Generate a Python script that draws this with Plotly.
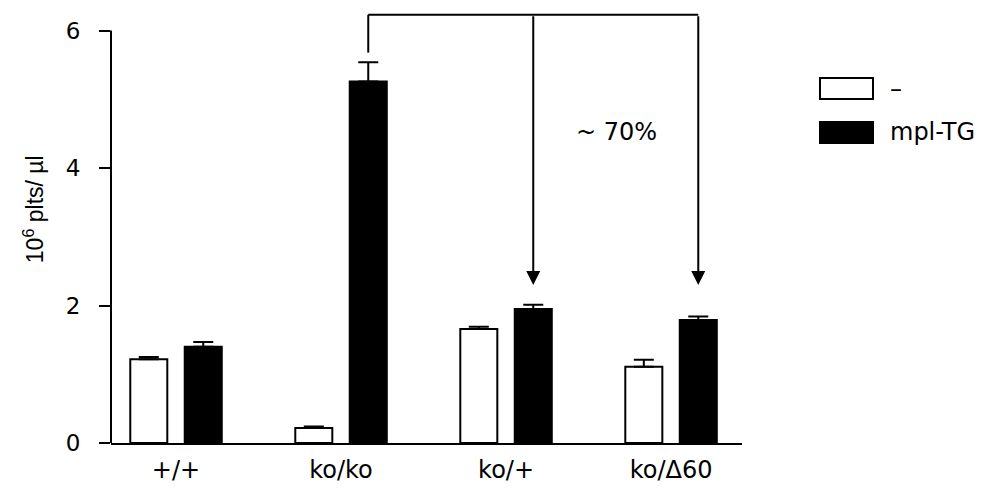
import plotly.graph_objects as go

categories = ["+/+", "ko/ko", "ko/+", "ko/Δ60"]
series_names = ["–", "mpl-TG"]
values_minus = [1.22, 0.22, 1.66, 1.11]
errors_minus = [0.03, 0.02, 0.03, 0.10]
values_tg = [1.40, 5.26, 1.95, 1.79]
errors_tg = [0.07, 0.28, 0.06, 0.05]
y_ticks = [0, 2, 4, 6]
y_title = "10<sup>6</sup> plts/ µl"
annotation_text = "~ 70%"

FONT = "DejaVu Sans, Arial, sans-serif"
FONT_T = "Liberation Sans, Arial, sans-serif"
FS = 24
FS_TICK = 23
BLACK = "#000000"

fig = go.Figure()
fig.add_trace(go.Bar(
    x=categories, y=values_minus, name=series_names[0],
    marker=dict(color="white", line=dict(color=BLACK, width=2)),
    error_y=dict(type="data", symmetric=False, array=errors_minus,
                 arrayminus=[0] * len(errors_minus), color=BLACK, thickness=2, width=10),
    showlegend=False,
))
fig.add_trace(go.Bar(
    x=categories, y=values_tg, name=series_names[1],
    marker=dict(color=BLACK, line=dict(color=BLACK, width=2)),
    error_y=dict(type="data", symmetric=False, array=errors_tg,
                 arrayminus=[0] * len(errors_tg), color=BLACK, thickness=2, width=10),
    showlegend=False,
))

# Bracket connecting ko/ko mpl-TG with ko/+ and ko/Δ60 mpl-TG bars
off = 0.165
top_y = 6.23
x_src = 1 + off
x_t1 = 2 + off
x_t2 = 3 + off
shapes = [
    dict(type="line", xref="x", yref="y", x0=x_src, x1=x_src, y0=5.68, y1=top_y,
         line=dict(color=BLACK, width=2)),
    dict(type="line", xref="x", yref="y", x0=x_src, x1=x_t2, y0=top_y, y1=top_y,
         line=dict(color=BLACK, width=2)),
    # y-axis line from 0 to 6
    dict(type="line", xref="paper", yref="y", x0=0, x1=0, y0=0, y1=6,
         line=dict(color=BLACK, width=2)),
    # manual legend boxes
    dict(type="rect", xref="paper", yref="paper", x0=1.1236, x1=1.2076, y0=0.7945, y1=0.8430,
         fillcolor="white", line=dict(color=BLACK, width=2)),
    dict(type="rect", xref="paper", yref="paper", x0=1.1236, x1=1.2076, y0=0.6928, y1=0.7413,
         fillcolor=BLACK, line=dict(color=BLACK, width=2)),
]

annotations = []
for xt in (x_t1, x_t2):
    annotations.append(dict(
        x=xt, y=2.30, xref="x", yref="y", ax=xt, ay=top_y, axref="x", ayref="y",
        showarrow=True, arrowhead=2, arrowsize=1.4, arrowwidth=2, arrowcolor=BLACK, text="",
        standoff=0, startstandoff=0,
    ))
annotations.append(dict(x=2.667, y=4.53, xref="x", yref="y", text=annotation_text,
                        showarrow=False, font=dict(family=FONT, size=FS, color=BLACK)))
annotations.append(dict(x=1.2314, y=0.8187, xref="paper", yref="paper", text=series_names[0],
                        showarrow=False, xanchor="left", yanchor="middle",
                        font=dict(family=FONT, size=FS, color=BLACK)))
annotations.append(dict(x=1.2314, y=0.7171, xref="paper", yref="paper", text=series_names[1],
                        showarrow=False, xanchor="left", yanchor="middle",
                        font=dict(family=FONT, size=FS, color=BLACK)))
# y-axis title
annotations.append(dict(x=-0.122, y=0.54, xref="paper", yref="paper", text=y_title,
                        textangle=-90, showarrow=False, xanchor="center", yanchor="middle",
                        font=dict(family=FONT_T, size=23, color=BLACK)))

fig.update_layout(
    width=986, height=488,
    margin=dict(l=111, r=244, t=10, b=45),
    paper_bgcolor="white", plot_bgcolor="white",
    barmode="group", bargap=0.34, bargroupgap=0.32,
    font=dict(family=FONT, size=FS, color=BLACK),
    shapes=shapes, annotations=annotations,
    showlegend=False,
)
fig.update_xaxes(
    type="category", range=[-0.394, 3.43], automargin=False,
    showline=True, linecolor=BLACK, linewidth=2, ticks="", showgrid=False, zeroline=False,
    tickfont=dict(family=FONT, size=FS, color=BLACK), ticklabelstandoff=4,
)
fig.update_yaxes(
    range=[0, 6.3], tickvals=y_ticks, automargin=False,
    ticks="outside", ticklen=11, tickwidth=2, tickcolor=BLACK,
    showline=False, showgrid=False, zeroline=False,
    tickfont=dict(family=FONT, size=FS_TICK, color=BLACK), ticklabelstandoff=14,
)

fig.write_html("out.html")
